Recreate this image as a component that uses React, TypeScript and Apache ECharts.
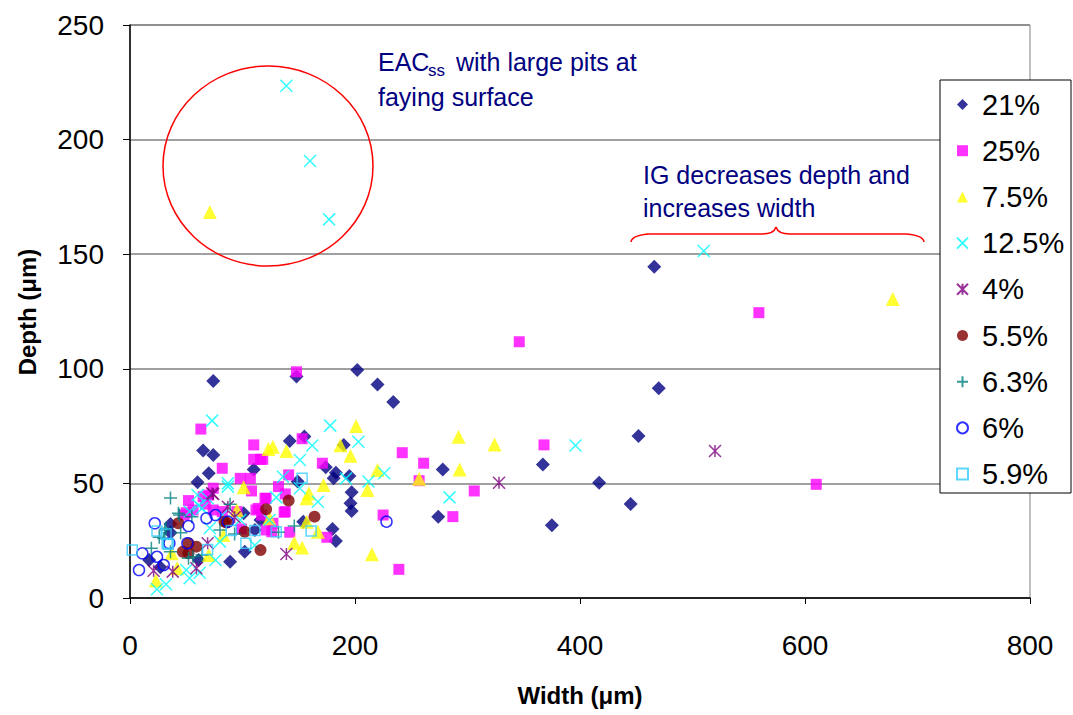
import { useEffect, useRef } from "react";
import * as echarts from "echarts";

const seriesNames = ["21%", "25%", "7.5%", "12.5%", "4%", "5.5%", "6.3%", "6%", "5.9%"];

const d21 = [[466,144.5],[470,91.5],[452,70.7],[367,58.3],[417,50.3],[445,41],[375,31.7],[278,56.1],[274,35.5],[202,99.5],[220,93.2],[234,85.5],[148,96.6],[155,70.5],[142,68.5],[190,66.8],[174,57],[183,54.7],[181,52.2],[195,53.2],[149,50.8],[197,46.1],[196,41.3],[197,38],[180,30.1],[183,24.9],[154,33.3],[74,94.7],[65,64.3],[74,62.4],[110,56.1],[70,54.4],[60,50.5],[116,34],[36,32.3],[36,28.5],[17,16.6],[27,13.4],[89,15.8],[102,20.2],[61,16.6],[101,37],[111,29.7]];
const d25 = [[346,111.8],[559,124.5],[610,49.6],[368,66.8],[242,63.4],[261,58.8],[257,51.2],[306,46.7],[287,35.5],[225,36.2],[239,12.5],[148,98.7],[153,69.5],[118,60.5],[171,58.8],[141,53.7],[132,48.6],[120,43.5],[137,37.4],[127,32.6],[142,28.7],[175,26.5],[63,73.7],[110,66.8],[110,60.5],[116,60.5],[82,56.6],[98,52.2],[107,52.2],[74,47.9],[108,46.7],[70,44.9],[65,44.2],[52,42.5],[67,41],[56,38.4],[74,38.4],[82,37.7],[95,37.7],[112,38.4],[121,29.7],[117,36.2],[50,37.2],[48,36.2],[99,30.1],[121,43.5],[138,45.4],[138,37.7],[114,39.1],[126,28.9]];
const d75 = [[678,130.5],[71,168.4],[292,70.4],[324,67],[293,56.1],[257,52],[201,75],[127,66],[139,64.1],[187,66.6],[196,62.1],[220,55.8],[172,49.3],[211,47.1],[159,45.7],[157,43.5],[124,34.8],[167,28.9],[146,24.1],[153,22],[215,19.1],[157,33.3],[123,65],[101,48.3],[95,38.4],[23,7.6],[42,13],[70,18.8],[83,27.5],[37,19.5]];
const d125 = [[139,223.5],[160,190.7],[177,165.2],[510,151.4],[396,66.5],[284,43.9],[178,75.2],[162,66.5],[203,68.2],[151,60.2],[192,52.2],[226,54.4],[212,50.8],[136,52.9],[151,47.9],[130,43.9],[167,42],[73,77.4],[87,48.6],[69,43.5],[64,39.1],[61,40.4],[53,37.7],[24,3.8],[32,6],[53,8.6],[50,12.2],[62,11],[76,16.6],[80,24.6],[60,44.9],[71,30.5],[82,36.2],[98,34],[111,23],[124,34],[87,50]];
const d4 = [[520,64.1],[328,50.3],[139,19.2],[74,45.4],[87,39.8],[93,35.2],[21,11.9],[38,11.5],[59,13],[69,23.9],[73,45.7]];
const d55 = [[141,42.5],[121,38.7],[164,35.5],[116,20.9],[43,32.6],[47,20.2],[52,23.9],[59,22.4],[52,19.5],[86,32.9],[102,28.9],[84,33.3]];
const d63 = [[146,31.4],[132,28.7],[36,43.6],[44,36.2],[55,35.5],[32,30.4],[45,28.5],[26,26.5],[19,21.7],[52,17.3],[64,18.8],[89,40.9],[93,27.9],[43,37],[31,29.7],[30,26],[36,20.2],[56,18],[80,29.7]];
const d6 = [[228,33.3],[22,32.6],[52,31.4],[68,34.8],[76,36.2],[35,23.9],[11,19.5],[24,18],[8,12.2],[30,14.4],[51,23.9],[87,33.3]];
const d59 = [[153,52.2],[161,29.2],[24,29.2],[32,27.9],[34,23.4],[2,20.9],[69,21.2],[90,29.4],[103,23.9],[111,29.4],[33,23.9],[130,28.9]];

const xTicks = [0, 200, 400, 600, 800];
const yTicks = [0, 50, 100, 150, 200, 250];

const FONT = "Liberation Sans, Arial, sans-serif";
const NAVY = "#000080";

const X_PATH = "path://M0,0L10,10M10,0L0,10";
const STAR_PATH = "path://M0,0L10,10M10,0L0,10M5,0L5,10";
const PLUS_PATH = "path://M5,0L5,10M0,5L10,5";

export default function App() {
  const ref = useRef<HTMLDivElement>(null);
  useEffect(() => {
    const chart = echarts.init(ref.current!, null, { renderer: "svg" });
    const dataSets = [d21, d25, d75, d125, d4, d55, d63, d6, d59];
    const styles: any[] = [
      { symbol: "diamond", symbolSize: 14, itemStyle: { color: "#000080" } },
      { symbol: "rect", symbolSize: 11, itemStyle: { color: "#FF00FF" } },
      { symbol: "triangle", symbolSize: 14, itemStyle: { color: "#FFFF00" } },
      { symbol: X_PATH, symbolSize: 12, itemStyle: { color: "rgba(0,0,0,0)", borderColor: "#00FFFF", borderWidth: 1.5 } },
      { symbol: STAR_PATH, symbolSize: 12, itemStyle: { color: "rgba(0,0,0,0)", borderColor: "#800080", borderWidth: 1.5 } },
      { symbol: "circle", symbolSize: 12, itemStyle: { color: "#800000" } },
      { symbol: PLUS_PATH, symbolSize: 13, itemStyle: { color: "rgba(0,0,0,0)", borderColor: "#008080", borderWidth: 1.5 } },
      { symbol: "circle", symbolSize: 11, itemStyle: { color: "rgba(0,0,0,0)", borderColor: "#0000FF", borderWidth: 1.5 } },
      { symbol: "rect", symbolSize: 10, itemStyle: { color: "rgba(0,0,0,0)", borderColor: "#33CCFF", borderWidth: 1.5 } },
    ];
    const series = seriesNames.map((name, i) => ({
      name,
      type: "scatter",
      data: dataSets[i],
      ...styles[i],
      emphasis: { disabled: true },
    }));

    const option: any = {
      animation: false,
      backgroundColor: "#ffffff",
      textStyle: { fontFamily: FONT },
      grid: { left: 130, right: 43, top: 25, bottom: 117, show: true, borderColor: "#808080", borderWidth: 1 },
      xAxis: {
        type: "value",
        min: xTicks[0],
        max: xTicks[xTicks.length - 1],
        interval: 200,
        axisLine: { show: true, lineStyle: { color: "#000", width: 1.5 } },
        axisTick: { show: true, length: 6, lineStyle: { color: "#000" } },
        splitLine: { show: false },
        axisLabel: { fontSize: 28, color: "#000", margin: 33, fontFamily: FONT },
      },
      yAxis: {
        type: "value",
        min: yTicks[0],
        max: yTicks[yTicks.length - 1],
        interval: 50,
        axisLine: { show: true, lineStyle: { color: "#000", width: 1.5 } },
        axisTick: { show: true, length: 7, lineStyle: { color: "#000" } },
        splitLine: { show: true, lineStyle: { color: "#808080", width: 1.5 } },
        axisLabel: { fontSize: 28, color: "#000", margin: 26, fontFamily: FONT },
      },
      legend: {
        orient: "vertical",
        left: 956,
        top: 88.5,
        padding: 0,
        itemWidth: 11,
        itemHeight: 11,
        itemGap: 14.2,
        z: 20,
        data: seriesNames,
        textStyle: { fontSize: 29, lineHeight: 32, color: "#000", fontFamily: FONT, padding: [0, 0, 0, 9] },
      },
      graphic: [
        { type: "rect", z: 15, shape: { x: 940, y: 80, width: 131, height: 413 }, style: { fill: "#fff", stroke: "#000", lineWidth: 1 } },
        { type: "ellipse", z: 5, shape: { cx: 268, cy: 166, rx: 105, ry: 100 }, style: { fill: "none", stroke: "#FF0000", lineWidth: 1.5 } },
        { type: "bezierCurve", z: 5, shape: { x1: 631, y1: 242, x2: 650, y2: 234, cpx1: 632, cpy1: 235 }, style: { fill: "none", stroke: "#FF0000", lineWidth: 1.5 } },
        { type: "line", z: 5, shape: { x1: 650, y1: 234, x2: 762, y2: 234 }, style: { stroke: "#FF0000", lineWidth: 1.5 } },
        { type: "bezierCurve", z: 5, shape: { x1: 762, y1: 234, x2: 776, y2: 227, cpx1: 774, cpy1: 234 }, style: { fill: "none", stroke: "#FF0000", lineWidth: 1.5 } },
        { type: "bezierCurve", z: 5, shape: { x1: 776, y1: 227, x2: 790, y2: 234, cpx1: 778, cpy1: 234 }, style: { fill: "none", stroke: "#FF0000", lineWidth: 1.5 } },
        { type: "line", z: 5, shape: { x1: 790, y1: 234, x2: 905, y2: 234 }, style: { stroke: "#FF0000", lineWidth: 1.5 } },
        { type: "bezierCurve", z: 5, shape: { x1: 905, y1: 234, x2: 924, y2: 242, cpx1: 923, cpy1: 235 }, style: { fill: "none", stroke: "#FF0000", lineWidth: 1.5 } },
        { type: "text", z: 6, style: { x: 378, y: 62, text: "EAC", fontSize: 25, fontFamily: FONT, fill: NAVY, verticalAlign: "middle", align: "left" } },
        { type: "text", z: 6, style: { x: 428, y: 70, text: "ss", fontSize: 17, fontFamily: FONT, fill: NAVY, verticalAlign: "middle", align: "left" } },
        { type: "text", z: 6, style: { x: 456, y: 62, text: "with large pits at", fontSize: 25, fontFamily: FONT, fill: NAVY, verticalAlign: "middle", align: "left" } },
        { type: "text", z: 6, style: { x: 378, y: 97, text: "faying surface", fontSize: 25, fontFamily: FONT, fill: NAVY, verticalAlign: "middle", align: "left" } },
        { type: "text", z: 6, style: { x: 643, y: 175, text: "IG decreases depth and", fontSize: 25, fontFamily: FONT, fill: NAVY, verticalAlign: "middle", align: "left" } },
        { type: "text", z: 6, style: { x: 643, y: 208, text: "increases width", fontSize: 25, fontFamily: FONT, fill: NAVY, verticalAlign: "middle", align: "left" } },
        { type: "text", z: 6, style: { x: 580, y: 695, text: "Width (\u03bcm)", fontSize: 24, fontWeight: "bold", fontFamily: FONT, fill: "#000", verticalAlign: "middle", align: "center" } },
        { type: "text", z: 6, x: 27, y: 312, rotation: Math.PI / 2, style: { x: 0, y: 0, text: "Depth (\u03bcm)", fontSize: 24, fontWeight: "bold", fontFamily: FONT, fill: "#000", verticalAlign: "middle", align: "center" } },
      ],
      series,
    };
    chart.setOption(option);
    return () => chart.dispose();
  }, []);
  return <div ref={ref} style={{ position: "fixed", left: 0, top: 0, width: 1073, height: 715 }} />;
}
